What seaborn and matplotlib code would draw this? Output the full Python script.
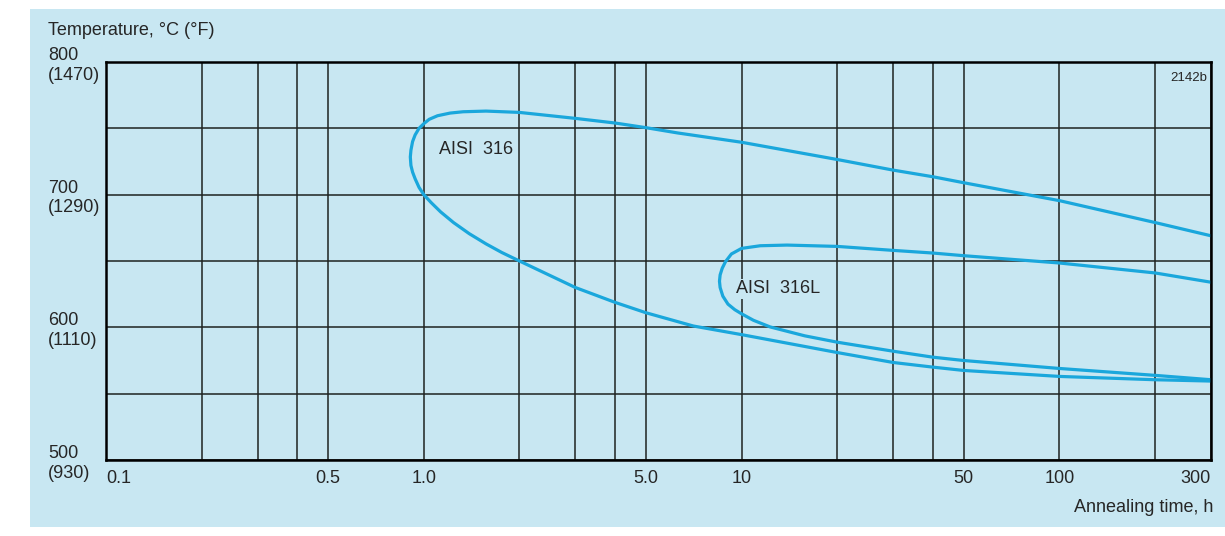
import matplotlib
matplotlib.use("Agg")
import matplotlib.pyplot as plt
from matplotlib.ticker import FixedLocator, NullFormatter
from matplotlib.patches import Rectangle
import seaborn as sns

# annealing time (h) and temperature (degC)
# each curve: upper branch from 300 h back to the nose, then lower branch out to 300 h
t_316 = [300, 200, 100, 50, 40, 30, 20, 10, 6.3, 5, 4, 3, 2, 1.57, 1.33, 1.21,
         1.105, 1.04, 1.0, 0.966, 0.939, 0.922, 0.911, 0.907, 0.911, 0.922, 0.939,
         0.966, 1.0, 1.055, 1.13, 1.24, 1.39, 1.57, 1.76, 2.0, 3, 4, 5, 7.05, 10,
         20, 30, 40, 50, 100, 200, 300]
T_316 = [669, 679, 695.5, 709, 713.5, 718.5, 726.5, 739.5, 746.5, 750.5, 754, 757.5,
         762, 763, 762.5, 761.5, 759.5, 756.8, 753.5, 750, 745, 740, 733.5, 728.4, 722,
         717, 712, 705.5, 700, 694, 687, 679, 670.6, 662.9, 656.4, 650, 630,
         618.8, 611, 601, 594.5, 581, 573.5, 570, 567.5, 563, 560.5, 559.5]

t_316L = [300, 200, 100, 50, 40, 30, 20, 13.9, 11.45, 10, 9.29, 8.9, 8.69, 8.56,
          8.52, 8.56, 8.73, 9.06, 9.52, 10, 10.9, 12.3, 15.8, 20, 30, 40, 50, 100,
          200, 300]
T_316L = [634, 641, 648.5, 654, 656, 658, 661, 662, 661.5, 659.5, 655.3, 649.5,
          644.5, 639.5, 634.8, 630, 623.5, 617.5, 613.3, 610.2, 605.3, 600.3, 593.6, 588.8,
          582, 577.5, 575, 569, 563.8, 560.5]

x_major = [0.1, 0.5, 1.0, 5.0, 10, 50, 100, 300]
x_labels = ["0.1", "0.5", "1.0", "5.0", "10", "50", "100", "300"]
x_minor = [0.2, 0.3, 0.4, 2, 3, 4, 20, 30, 40, 200]
y_major = [500, 600, 700, 800]
y_labels = ["500\n(930)", "600\n(1110)", "700\n(1290)", "800\n(1470)"]
y_minor = [550, 650, 750]

bg = "#c8e7f2"
blue = "#1aa7dc"
ink = "#1e2320"

sns.set_style("white")
plt.rcParams["font.family"] = ["Liberation Sans", "DejaVu Sans"]

fig = plt.figure(figsize=(12.25, 5.36), dpi=100, facecolor="white")
fig.patches.append(Rectangle((30 / 1225, 9 / 536), 1195 / 1225, 518 / 536,
                             transform=fig.transFigure, facecolor=bg,
                             edgecolor="none", zorder=-5))
ax = fig.add_axes([106 / 1225, 76 / 536, 1105 / 1225, 398 / 536])
ax.set_zorder(2)
ax.set_facecolor(bg)
ax.set_xscale("log")

sns.lineplot(x=t_316, y=T_316, sort=False, estimator=None, color=blue, lw=2.3, ax=ax)
sns.lineplot(x=t_316L, y=T_316L, sort=False, estimator=None, color=blue, lw=2.3, ax=ax)

ax.set_xlim(0.1, 300)
ax.set_ylim(500, 800)
ax.xaxis.set_major_locator(FixedLocator(x_major))
ax.set_xticklabels(x_labels)
ax.xaxis.set_minor_locator(FixedLocator(x_minor))
ax.xaxis.set_minor_formatter(NullFormatter())
ax.set_yticks(y_major)
ax.set_yticklabels(y_labels)
ax.yaxis.set_minor_locator(FixedLocator(y_minor))
ax.set_xlabel("")
ax.set_ylabel("")

ax.set_axisbelow(True)
ax.grid(which="both", color=ink, lw=1.1)
for s in ax.spines.values():
    s.set_color("black")
    s.set_linewidth(1.8)

ax.tick_params(which="both", length=0)
ax.tick_params(axis="x", labelsize=13, pad=7)
ax.tick_params(axis="y", labelsize=13, pad=41.5)
for lab in ax.get_yticklabels():
    lab.set_horizontalalignment("left")
xl = ax.get_xticklabels()
xl[0].set_horizontalalignment("left")
xl[-1].set_horizontalalignment("right")

ax.text(1.12, 734, "AISI  316", fontsize=13, va="center")
ax.text(9.6, 629, "AISI  316L", fontsize=13, va="center",
        bbox=dict(facecolor=bg, edgecolor="none", pad=1))
ax.text(0.997, 0.976, "2142b", transform=ax.transAxes, ha="right", va="top",
        fontsize=9.5)

fig.text(48 / 1225, 1 - 35 / 536, "Temperature, °C (°F)", fontsize=13,
         ha="left", va="baseline")
fig.text(1213 / 1225, 1 - 512 / 536, "Annealing time, h", fontsize=13,
         ha="right", va="baseline")

fig.savefig("out.png", dpi=100, facecolor=fig.get_facecolor())
